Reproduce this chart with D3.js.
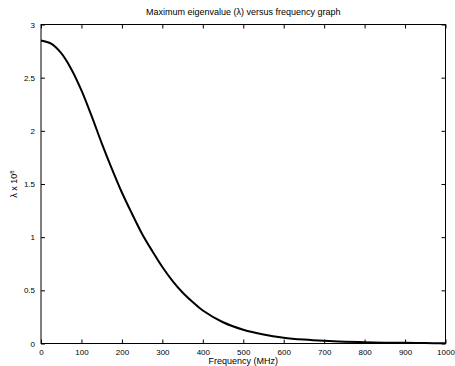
<!DOCTYPE html>
<html>
<head>
<meta charset="utf-8">
<script src="https://cdn.jsdelivr.net/npm/d3@7"></script>
<style>
  body { margin: 0; background: #fff; }
  text { font-family: "Liberation Sans", Arial, sans-serif; fill: #000; }
</style>
</head>
<body>
<div id="chart"></div>
<script>
// Data
const freqs = [0, 25, 50, 75, 100, 125, 150, 175, 200, 225, 250, 275, 300, 325, 350, 375, 400,
               450, 500, 550, 600, 650, 700, 750, 800, 850, 900, 950, 1000];
const lambdas = [2.85, 2.82, 2.73, 2.58, 2.38, 2.14, 1.885, 1.645, 1.42, 1.22, 1.03, 0.87, 0.72, 0.59,
                 0.48, 0.39, 0.31, 0.20, 0.13, 0.085, 0.055, 0.037, 0.025, 0.017, 0.012, 0.008,
                 0.006, 0.004, 0.003];
const xTicks = [0, 100, 200, 300, 400, 500, 600, 700, 800, 900, 1000];
const yTicks = [0, 0.5, 1, 1.5, 2, 2.5, 3];

// Plot box
const W = 455, H = 366;
const plotL = 41, plotR = 445.5, plotT = 24.5, plotB = 343.5;

const svg = d3.select("#chart").append("svg")
    .attr("width", W)
    .attr("height", H);

const x = d3.scaleLinear().domain([0, 1000]).range([plotL, plotR]);
const y = d3.scaleLinear().domain([0, 3]).range([plotB, plotT]);

// Frame
svg.append("rect")
    .attr("x", plotL).attr("y", plotT)
    .attr("width", plotR - plotL).attr("height", plotB - plotT)
    .attr("fill", "none").attr("stroke", "#000").attr("stroke-width", 1);

// Axes with inward ticks on all four sides
const fmt = d3.format("");
svg.append("g").attr("transform", `translate(0,${plotB})`)
    .call(d3.axisBottom(x).tickValues(xTicks).tickSizeInner(-4).tickSizeOuter(0).tickPadding(6).tickFormat(fmt));
svg.append("g").attr("transform", `translate(0,${plotT})`)
    .call(d3.axisTop(x).tickValues(xTicks).tickSizeInner(-4).tickSizeOuter(0).tickFormat(""));
svg.append("g").attr("transform", `translate(${plotL},0)`)
    .call(d3.axisLeft(y).tickValues(yTicks).tickSizeInner(-4).tickSizeOuter(0).tickPadding(6).tickFormat(fmt));
svg.append("g").attr("transform", `translate(${plotR},0)`)
    .call(d3.axisRight(y).tickValues(yTicks).tickSizeInner(-4).tickSizeOuter(0).tickFormat(""));

svg.selectAll(".domain").remove();
svg.selectAll(".tick line").attr("stroke", "#000");
svg.selectAll(".tick text")
    .style("font-size", "8px")
    .style("font-family", "'Liberation Sans', Arial, sans-serif")
    .attr("fill", "#000");

// Curve (smooth spline through the read points)
const line = d3.line()
    .x((d, i) => x(freqs[i]))
    .y((d) => y(d))
    .curve(d3.curveCatmullRom.alpha(0.5));

svg.append("path")
    .datum(lambdas)
    .attr("d", line)
    .attr("fill", "none")
    .attr("stroke", "#000")
    .attr("stroke-width", 2);

// Title and labels
svg.append("text")
    .attr("x", (plotL + plotR) / 2).attr("y", 15)
    .attr("text-anchor", "middle")
    .style("font-size", "9px")
    .text("Maximum eigenvalue (λ) versus frequency graph");

svg.append("text")
    .attr("x", (plotL + plotR) / 2).attr("y", 364)
    .attr("text-anchor", "middle")
    .style("font-size", "9px")
    .text("Frequency (MHz)");

const yl = svg.append("text")
    .attr("transform", `translate(17,${(plotT + plotB) / 2}) rotate(-90)`)
    .attr("text-anchor", "middle")
    .style("font-size", "9px");
yl.append("tspan").text("λ x 10");
yl.append("tspan").attr("dy", -3).style("font-size", "6px").text("8");
</script>
</body>
</html>
